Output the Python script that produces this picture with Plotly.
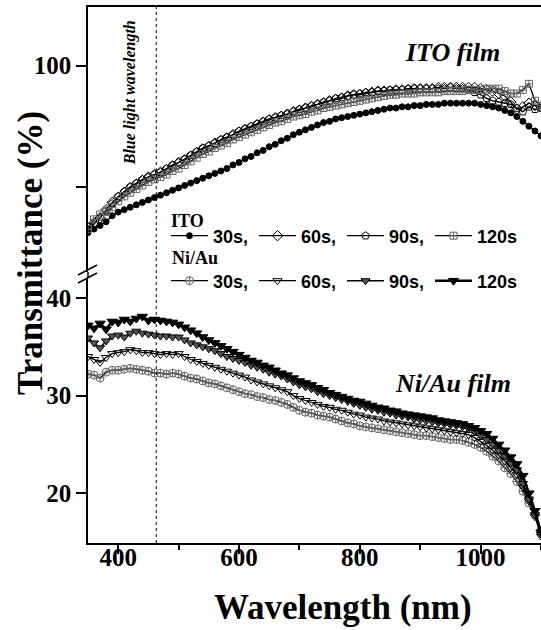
import plotly.graph_objects as go

# Wavelength grid (nm)
wavelength = list(range(350, 1101, 10))

# ITO film transmittance (%) after annealing for 30/60/90/120 s
ito_30 = [86.2, 86.5, 86.8, 87.1, 87.6, 87.9, 88.1, 88.3, 88.5, 88.7,
          88.9, 89.1, 89.3, 89.5, 89.7, 89.9, 90.1, 90.3, 90.5, 90.7,
          90.9, 91.1, 91.3, 91.5, 91.8, 92.0, 92.3, 92.5, 92.8, 93.0,
          93.3, 93.5, 93.8, 94.0, 94.3, 94.5, 94.7, 94.9, 95.1, 95.3,
          95.4, 95.6, 95.7, 95.8, 95.9, 96.0, 96.1, 96.2, 96.3, 96.4,
          96.5, 96.5, 96.6, 96.6, 96.7, 96.7, 96.8, 96.8, 96.8, 96.9,
          96.9, 96.9, 96.9, 96.9, 96.9, 96.8, 96.7, 96.6, 96.5, 96.3,
          96.1, 95.8, 95.4, 95.0, 94.6, 94.2]
ito_60 = [86.6, 87.0, 87.4, 88.1, 88.7, 89.1, 89.5, 89.9, 90.2, 90.5,
          90.8, 91.0, 91.2, 91.4, 91.7, 92.0, 92.2, 92.5, 92.8, 93.1,
          93.3, 93.6, 93.8, 94.0, 94.3, 94.5, 94.7, 94.9, 95.1, 95.3,
          95.5, 95.7, 95.8, 96.0, 96.2, 96.3, 96.5, 96.6, 96.8, 96.9,
          97.1, 97.2, 97.3, 97.5, 97.6, 97.6, 97.7, 97.8, 97.9, 97.9,
          97.9, 98.0, 98.0, 98.0, 98.1, 98.1, 98.1, 98.1, 98.2, 98.2,
          98.2, 98.2, 98.2, 98.2, 98.2, 98.1, 98.0, 97.9, 97.7, 97.5,
          97.0, 96.4, 96.6, 96.9, 96.7, 96.6]
ito_90 = [86.4, 86.9, 87.5, 88.0, 88.6, 89.2, 89.6, 90.0, 90.3, 90.6,
          90.8, 91.0, 91.2, 91.5, 91.8, 92.0, 92.3, 92.6, 92.9, 93.2,
          93.4, 93.6, 93.9, 94.1, 94.3, 94.6, 94.8, 95.0, 95.2, 95.4,
          95.6, 95.7, 95.9, 96.0, 96.2, 96.4, 96.5, 96.7, 96.8, 97.0,
          97.1, 97.3, 97.4, 97.5, 97.6, 97.7, 97.8, 97.8, 97.9, 97.9,
          98.0, 98.0, 98.0, 98.1, 98.1, 98.1, 98.1, 98.1, 98.1, 98.1,
          98.2, 98.1, 98.1, 98.0, 97.8, 97.6, 97.3, 97.1, 97.0, 96.9,
          96.8, 96.5, 96.2, 96.6, 96.4, 96.5]
ito_120 = [86.5, 87.3, 87.7, 87.9, 88.3, 88.8, 89.2, 89.5, 89.8, 90.1,
           90.4, 90.6, 90.8, 91.0, 91.3, 91.5, 91.8, 92.1, 92.4, 92.7,
           92.9, 93.2, 93.4, 93.6, 93.9, 94.1, 94.3, 94.5, 94.7, 94.9,
           95.1, 95.3, 95.4, 95.6, 95.8, 95.9, 96.0, 96.2, 96.3, 96.5,
           96.6, 96.7, 96.8, 96.9, 97.0, 97.1, 97.2, 97.3, 97.4, 97.5,
           97.6, 97.6, 97.7, 97.7, 97.7, 97.8, 97.8, 97.8, 97.8, 97.9,
           97.9, 97.9, 97.9, 98.0, 98.0, 98.0, 98.1, 98.1, 98.1, 97.9,
           97.7, 97.7, 98.0, 98.5, 97.1, 96.7]

# Ni/Au film transmittance (%) after annealing for 30/60/90/120 s
niau_30 = [32.2, 32.1, 31.8, 32.4, 32.6, 32.6, 32.7, 32.8, 32.7, 32.6,
           32.5, 32.3, 32.3, 32.2, 32.3, 32.2, 32.0, 31.8, 31.7, 31.5,
           31.3, 31.2, 31.0, 30.8, 30.6, 30.4, 30.2, 30.1, 29.9, 29.8,
           29.6, 29.5, 29.3, 29.1, 28.8, 28.5, 28.3, 28.2, 28.0, 27.9,
           27.8, 27.6, 27.4, 27.2, 27.1, 26.9, 26.8, 26.7, 26.6, 26.5,
           26.4, 26.3, 26.2, 26.1, 26.0, 25.9, 25.9, 25.8, 25.7, 25.6,
           25.5, 25.5, 25.4, 25.2, 25.0, 24.7, 24.3, 23.8, 23.3, 22.6,
           22.0, 21.2, 20.2, 19.0, 17.8, 16.2]
niau_60 = [34.0, 33.7, 33.4, 33.9, 34.3, 34.4, 34.5, 34.7, 34.6, 34.4,
           34.4, 34.3, 34.2, 34.3, 34.2, 34.3, 34.0, 33.7, 33.5, 33.3,
           33.1, 32.9, 32.7, 32.5, 32.3, 32.1, 31.9, 31.6, 31.4, 31.2,
           31.0, 30.8, 30.6, 30.4, 30.0, 29.7, 29.5, 29.3, 29.1, 28.9,
           28.8, 28.6, 28.5, 28.3, 28.1, 28.0, 27.8, 27.7, 27.6, 27.4,
           27.3, 27.2, 27.1, 27.0, 26.9, 26.8, 26.7, 26.6, 26.5, 26.4,
           26.3, 26.2, 26.1, 26.0, 25.7, 25.3, 24.9, 24.4, 23.9, 23.3,
           22.6, 21.9, 20.6, 19.2, 17.6, 15.6]
niau_90 = [35.9, 35.4, 34.9, 35.6, 36.1, 36.2, 36.0, 36.4, 36.6, 36.4,
           36.3, 36.2, 36.1, 36.1, 36.0, 36.0, 35.7, 35.4, 35.2, 35.0,
           34.8, 34.6, 34.3, 34.0, 33.8, 33.6, 33.4, 33.1, 32.9, 32.7,
           32.4, 32.2, 32.0, 31.7, 31.4, 31.1, 30.9, 30.7, 30.4, 30.2,
           30.0, 29.8, 29.6, 29.4, 29.2, 29.0, 28.8, 28.6, 28.5, 28.3,
           28.2, 28.0, 27.9, 27.8, 27.6, 27.5, 27.4, 27.3, 27.2, 27.1,
           27.0, 26.9, 26.8, 26.6, 26.3, 25.9, 25.5, 25.0, 24.4, 23.8,
           23.1, 22.4, 21.0, 19.4, 17.8, 15.8]
niau_120 = [37.2, 36.9, 37.4, 36.8, 37.6, 37.5, 37.8, 37.6, 37.9, 38.1,
            37.7, 37.8, 37.7, 37.6, 37.5, 37.3, 37.0, 36.7, 36.4, 36.0,
            35.7, 35.4, 35.1, 34.8, 34.5, 34.2, 33.9, 33.6, 33.4, 33.1,
            32.9, 32.6, 32.3, 32.1, 31.8, 31.5, 31.3, 31.1, 30.8, 30.6,
            30.3, 30.1, 29.9, 29.7, 29.5, 29.4, 29.2, 29.0, 28.8, 28.7,
            28.5, 28.4, 28.2, 28.1, 28.0, 27.9, 27.8, 27.7, 27.5, 27.4,
            27.3, 27.2, 27.1, 26.9, 26.7, 26.4, 26.1, 25.6, 25.0, 24.4,
            23.7, 23.0, 21.8, 20.0, 18.2, 16.0]

series_labels = ["30s,", "60s,", "90s,", "120s"]
blue_light_nm = 463

SERIF = "Liberation Serif"
SANS = "Liberation Sans"

fig = go.Figure()

ito_style = [
    dict(symbol="circle", size=6, color="black", line=dict(color="black", width=1)),
    dict(symbol="diamond-open", size=8, color="black", line=dict(color="black", width=1)),
    dict(symbol="pentagon-open", size=8, color="black", line=dict(color="black", width=1)),
    dict(symbol="square-cross-open", size=7, color="#666", line=dict(color="#666", width=1)),
]
niau_style = [
    dict(symbol="circle-cross-open", size=8, color="#666", line=dict(color="#666", width=1)),
    dict(symbol="triangle-down-open", size=8, color="black", line=dict(color="black", width=1)),
    dict(symbol="triangle-down", size=8, color="#555", line=dict(color="black", width=1)),
    dict(symbol="triangle-down", size=9, color="black", line=dict(color="black", width=1)),
]

for vals, lab, mk in zip([ito_30, ito_60, ito_90, ito_120], series_labels, ito_style):
    fig.add_trace(go.Scatter(
        x=wavelength, y=vals, mode="lines+markers", name=lab,
        line=dict(color="black", width=1.3), marker=mk,
        xaxis="x2", yaxis="y2", legend="legend",
    ))

for vals, lab, mk, lw in zip([niau_30, niau_60, niau_90, niau_120], series_labels,
                              niau_style, [1.3, 1.3, 1.5, 2.5]):
    fig.add_trace(go.Scatter(
        x=wavelength, y=vals, mode="lines+markers", name=lab,
        line=dict(color="black", width=lw), marker=mk,
        xaxis="x", yaxis="y", legend="legend2",
    ))

tickfont = dict(family=SERIF, size=25, color="black", weight="bold")
axis_common = dict(showline=True, linecolor="black", linewidth=1.5, ticks="outside",
                   tickcolor="black", tickwidth=1.5, showgrid=False,
                   zeroline=False, tickfont=tickfont)

H, W = 536, 453
top_lo = (543 - 272) / H
bot_hi = (543 - 278) / H


def px_x(px):
    return (px - 88) / W


def px_y(py):
    return (543 - py) / H


legend_common = dict(
    orientation="h", xanchor="left", yanchor="middle", bgcolor="rgba(0,0,0,0)",
    font=dict(family=SANS, size=18, color="black", weight="bold"),
    entrywidth=36, itemwidth=37, tracegroupgap=0,
)

fig.update_layout(
    width=541, height=630,
    margin=dict(l=88, r=0, t=7, b=87),
    paper_bgcolor="white", plot_bgcolor="white",
    xaxis=dict(range=[350, 1100], tickvals=[400, 600, 800, 1000], anchor="y",
               ticklen=9, ticklabelstandoff=-18,
               minor=dict(dtick=100, tick0=300, ticks="outside", ticklen=5,
                          tickcolor="black", tickwidth=1.5),
               **axis_common),
    xaxis2=dict(range=[350, 1100], matches="x", anchor="y2", side="top",
                showline=True, linecolor="black", linewidth=1.5, ticks="",
                showticklabels=False, showgrid=False, zeroline=False),
    yaxis=dict(range=[14.9, 42.05], tickvals=[20, 30, 40], domain=[0, bot_hi],
               anchor="x", ticklen=10, **axis_common),
    yaxis2=dict(range=[82.95, 104.85], tickvals=[90, 100], ticktext=["", "100"],
                domain=[top_lo, 1], anchor="x2", ticklen=10, **axis_common),
    legend=dict(x=px_x(166), y=px_y(236), **legend_common),
    legend2=dict(x=px_x(166), y=px_y(281), **legend_common),
)

# Blue-light marker line spanning both panels
fig.add_shape(type="line", xref="x", yref="paper", x0=blue_light_nm, x1=blue_light_nm,
              y0=0, y1=1, line=dict(color="black", width=1, dash="dot"))

# Continuous left spine through the break, plus the break marks
fig.add_shape(type="line", xref="paper", yref="paper", x0=0, x1=0, y0=bot_hi, y1=top_lo,
              line=dict(color="black", width=1.5))
for y_hi_px in (265, 273):
    fig.add_shape(type="line", xref="paper", yref="paper",
                  x0=px_x(78), y0=px_y(y_hi_px + 10),
                  x1=px_x(97), y1=px_y(y_hi_px),
                  line=dict(color="black", width=1.5))


def label(text, cx, cy, size, angle=0, xref="paper", family=SERIF):
    fig.add_annotation(text=text, xref=xref, yref="paper", x=cx, y=cy,
                       xanchor="center", yanchor="middle", textangle=angle,
                       showarrow=False, font=dict(family=family, size=size, color="black"))


label("<b><i>Blue light wavelength</i></b>", 420, px_y(93), 16, angle=-90, xref="x")
label("<b><i>ITO film</i></b>", px_x(452), px_y(52), 26)
label("<b><i>Ni/Au film</i></b>", px_x(453), px_y(383), 26)
label("<b>Wavelength (nm)</b>", px_x(343), px_y(607), 35)
label("<b>Transmittance (%)</b>", px_x(30), px_y(253), 35, angle=-90)
label("<b>ITO</b>", px_x(187), px_y(221), 18)
label("<b>Ni/Au</b>", px_x(195), px_y(258), 18)

fig.write_html("out.html")
